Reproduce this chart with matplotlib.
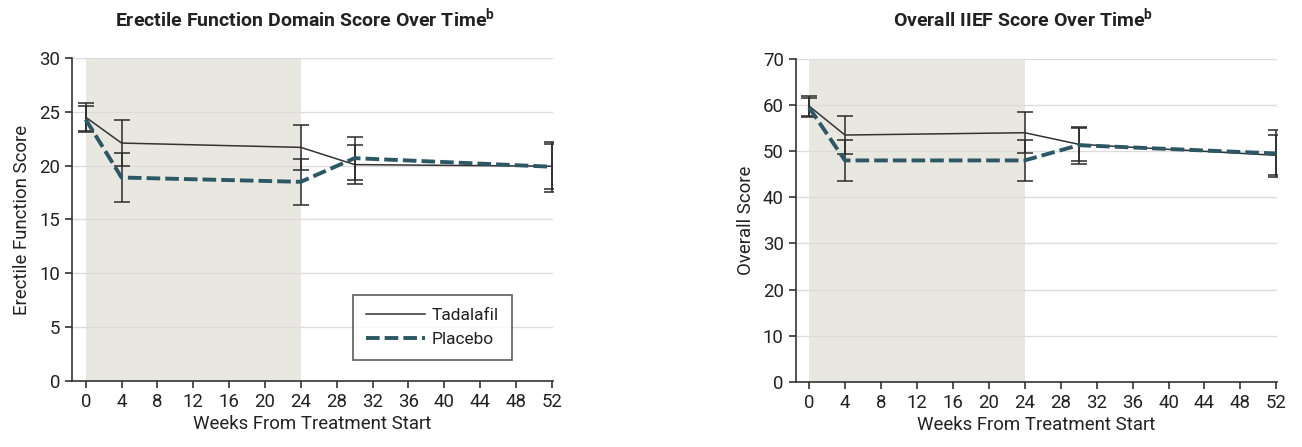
import matplotlib.pyplot as plt
from matplotlib.patches import Rectangle

plt.rcParams['font.family'] = ['Roboto', 'DejaVu Sans']

weeks = [0, 4, 24, 30, 52]

# Erectile function domain score
ef_tad = [24.5, 22.1, 21.7, 20.1, 19.95]
ef_tad_err = [1.3, 2.1, 2.1, 1.8, 2.1]
ef_pla = [24.3, 18.9, 18.5, 20.7, 19.9]
ef_pla_err = [1.2, 2.3, 2.15, 2.0, 2.3]

# Overall IIEF score
ov_tad = [59.8, 53.5, 54.0, 51.5, 49.1]
ov_tad_err = [2.2, 4.1, 4.4, 3.6, 4.35]
ov_pla = [59.5, 48.0, 48.0, 51.3, 49.5]
ov_pla_err = [2.0, 4.45, 4.45, 4.0, 5.2]

xticks = list(range(0, 53, 4))
shade_end = 24

txt = '#222222'
teal = '#2c5866'
err_c = '#2a2a2a'
fs = 13.4

fig = plt.figure(figsize=(13.02, 4.47), dpi=100)
ax1 = fig.add_axes([0.0555, 0.1477, 0.369, 0.7225])
ax2 = fig.add_axes([0.611, 0.1457, 0.370, 0.7225])


def draw(ax, tad, tad_err, pla, pla_err, ymax, ystep, ylabel):
    ax.add_patch(Rectangle((0, 0), shade_end, ymax, color='#e9e8e0', zorder=0, lw=0))
    for y in range(ystep, ymax + 1, ystep):
        ax.axhline(y, color='#dcdcdc', lw=1, zorder=0.5)
    ax.errorbar(weeks, tad, yerr=tad_err, fmt='none', ecolor=err_c, elinewidth=1.1,
                capsize=6, capthick=1.1, zorder=2)
    ax.errorbar(weeks, pla, yerr=pla_err, fmt='none', ecolor=err_c, elinewidth=1.1,
                capsize=6, capthick=1.1, zorder=2)
    ax.plot(weeks, tad, color='#333333', lw=1.1, label='Tadalafil', zorder=3)
    ax.plot(weeks, pla, color=teal, lw=2.8, dashes=(3.5, 1.3), label='Placebo', zorder=3)
    ax.set_xlim(-1.5, 52.1)
    ax.set_ylim(0, ymax)
    ax.set_xticks(xticks)
    ax.set_yticks(range(0, ymax + 1, ystep))
    for s in ['top', 'right']:
        ax.spines[s].set_visible(False)
    for s in ['left', 'bottom']:
        ax.spines[s].set_color('#333333')
        ax.spines[s].set_linewidth(1.2)
    ax.tick_params(direction='out', length=5, width=1.2, color='#333333',
                   labelsize=fs, labelcolor=txt)
    ax.set_xlabel('Weeks From Treatment Start', fontsize=fs, color=txt, labelpad=3)
    ax.set_ylabel(ylabel, fontsize=fs, color=txt, labelpad=6)


draw(ax1, ef_tad, ef_tad_err, ef_pla, ef_pla_err, 30, 5, 'Erectile Function Score')
draw(ax2, ov_tad, ov_tad_err, ov_pla, ov_pla_err, 70, 10, 'Overall Score')

fig.text(0.2343, 0.958, 'Erectile Function Domain Score Over Time$^{\\mathregular{b}}$',
         fontsize=14, fontweight='bold', color=txt, ha='center', va='center')
fig.text(0.7857, 0.958, 'Overall IIEF Score Over Time$^{\\mathregular{b}}$',
         fontsize=14, fontweight='bold', color=txt, ha='center', va='center')

leg = ax1.legend(loc='lower right', bbox_to_anchor=(0.915, 0.065), fontsize=12.5, frameon=True,
                 fancybox=False, edgecolor='#333333', handlelength=3.4, handletextpad=0.4,
                 borderpad=0.75, labelspacing=0.5, borderaxespad=0)
leg.get_frame().set_linewidth(1.2)
for t in leg.get_texts():
    t.set_color(txt)

fig.savefig('out.png', dpi=100)
